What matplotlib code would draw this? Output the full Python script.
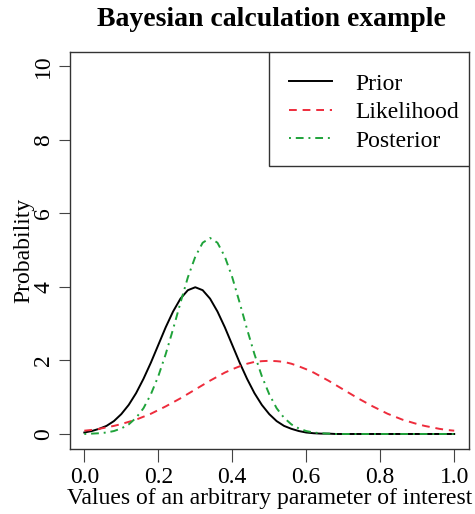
import matplotlib
matplotlib.use("Agg")
import matplotlib.pyplot as plt
from matplotlib.patches import Rectangle

x_values = [0.00, 0.02, 0.04, 0.06, 0.08, 0.10, 0.12, 0.14, 0.16, 0.18,
            0.20, 0.22, 0.24, 0.26, 0.28, 0.30, 0.32, 0.34, 0.36, 0.38,
            0.40, 0.42, 0.44, 0.46, 0.48, 0.50, 0.52, 0.54, 0.56, 0.58,
            0.60, 0.62, 0.64, 0.66, 0.68, 0.70, 0.72, 0.74, 0.76, 0.78,
            0.80, 0.82, 0.84, 0.86, 0.88, 0.90, 0.92, 0.94, 0.96, 0.98, 1.00]

prior = [0.04, 0.08, 0.14, 0.22, 0.35, 0.54, 0.79, 1.11, 1.50, 1.94,
         2.42, 2.90, 3.33, 3.68, 3.91, 3.99, 3.91, 3.68, 3.33, 2.90,
         2.42, 1.94, 1.50, 1.11, 0.79, 0.54, 0.35, 0.22, 0.14, 0.08,
         0.04, 0.02, 0.01, 0.01, 0.00, 0.00, 0.00, 0.00, 0.00, 0.00,
         0.00, 0.00, 0.00, 0.00, 0.00, 0.00, 0.00, 0.00, 0.00, 0.00, 0.00]

likelihood = [0.09, 0.11, 0.14, 0.18, 0.22, 0.27, 0.33, 0.39, 0.47, 0.55,
              0.65, 0.75, 0.86, 0.97, 1.09, 1.21, 1.33, 1.45, 1.56, 1.67,
              1.76, 1.84, 1.91, 1.96, 1.98, 1.99, 1.98, 1.96, 1.91, 1.84,
              1.76, 1.67, 1.56, 1.45, 1.33, 1.21, 1.09, 0.97, 0.86, 0.75,
              0.65, 0.55, 0.47, 0.39, 0.33, 0.27, 0.22, 0.18, 0.14, 0.11, 0.09]

posterior = [0.00, 0.01, 0.02, 0.04, 0.08, 0.15, 0.26, 0.44, 0.70, 1.08,
             1.57, 2.17, 2.85, 3.57, 4.26, 4.82, 5.20, 5.33, 5.20, 4.82,
             4.26, 3.57, 2.85, 2.17, 1.57, 1.08, 0.70, 0.44, 0.26, 0.15,
             0.08, 0.04, 0.02, 0.01, 0.00, 0.00, 0.00, 0.00, 0.00, 0.00,
             0.00, 0.00, 0.00, 0.00, 0.00, 0.00, 0.00, 0.00, 0.00, 0.00, 0.00]

series_names = ["Prior", "Likelihood", "Posterior"]
x_ticks = [0.0, 0.2, 0.4, 0.6, 0.8, 1.0]
x_tick_labels = ["0.0", "0.2", "0.4", "0.6", "0.8", "1.0"]
y_ticks = [0, 2, 4, 6, 8, 10]
y_tick_labels = ["0", "2", "4", "6", "8", "10"]

plt.rcParams['font.family'] = ['Liberation Serif', 'DejaVu Serif']

W, H = 475, 514
fig = plt.figure(figsize=(W / 100, H / 100), dpi=100)
left, right, top, bottom = 69.5, 469, 51.5, 448.7
ax = fig.add_axes([left / W, 1 - bottom / H, (right - left) / W, (bottom - top) / H])

ax.plot(x_values, prior, color="black", lw=1.4, ls="-", label=series_names[0])
ax.plot(x_values, likelihood, color="#EE2C3C", lw=1.4, ls=(0, (4, 3)), label=series_names[1])
ax.plot(x_values, posterior, color="#1FA33A", lw=1.4, ls=(0, (1, 2.5, 4, 2.5)), label=series_names[2])

ax.set_xlim(-0.04, 1.04)
ax.set_ylim(-0.4, 10.4)
ax.set_xticks(x_ticks)
ax.set_xticklabels(x_tick_labels, fontsize=17)
ax.set_yticks(y_ticks)
ax.set_yticklabels(y_tick_labels, fontsize=17, rotation=90, va="center")
ax.tick_params(axis="both", width=0.8, color="#444444")
ax.tick_params(axis="x", length=9, pad=4)
ax.tick_params(axis="y", length=8, pad=3)
for s in ax.spines.values():
    s.set_linewidth(1.0)
    s.set_color("#333333")

ax.set_xlabel("Values of an arbitrary parameter of interest", fontsize=17, labelpad=0)
ax.set_ylabel("Probability", fontsize=17, labelpad=-1)
fig.text(0.5 * (left + right) / W + 0.004, 1 - 20 / H, "Bayesian calculation example",
         ha="center", va="center", fontsize=20, fontweight="bold")

# legend box (frame drawn separately to match the reference's proportions)
box_l = (269 - left) / (right - left)
box_b = (bottom - 166) / (bottom - top)
ax.add_patch(Rectangle((box_l, box_b), 1 - box_l, 1 - box_b, transform=ax.transAxes,
                       facecolor="white", edgecolor="#333333", lw=1.0, zorder=4))
leg = ax.legend(loc="upper right", fontsize=17, frameon=False,
                bbox_to_anchor=((459 - left) / (right - left), (bottom - 73) / (bottom - top)),
                handlelength=1.8, borderaxespad=0, borderpad=0,
                labelspacing=0.3, handletextpad=1.0)
leg.set_zorder(5)

fig.savefig("out.png", dpi=100)
